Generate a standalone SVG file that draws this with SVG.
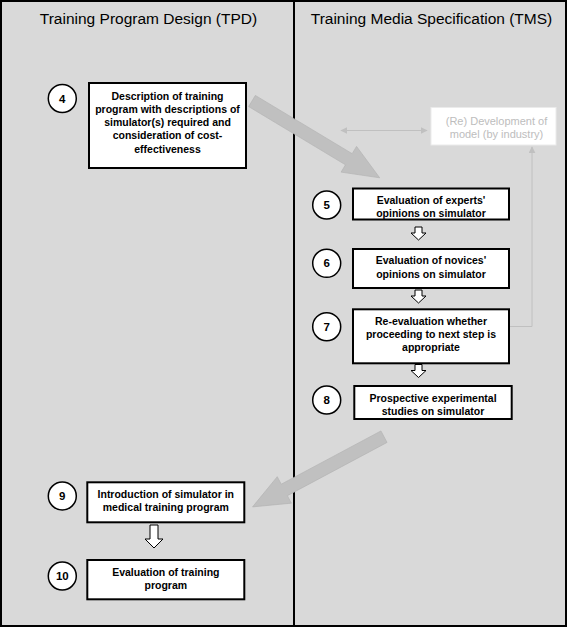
<svg xmlns="http://www.w3.org/2000/svg" width="567" height="627" viewBox="0 0 567 627">
<defs>
<style>
.frame{fill:#d9d9d9;stroke:#000;stroke-width:2}
.title{font-family:"Liberation Sans",Arial,sans-serif;font-size:15.5px;fill:#000;text-anchor:middle}
.box{fill:#fff;stroke:#000;stroke-width:2}
.txt{font-family:"Liberation Sans",Arial,sans-serif;font-size:10.5px;font-weight:bold;fill:#000;text-anchor:middle}
.num{font-family:"Liberation Sans",Arial,sans-serif;font-size:11.5px;font-weight:bold;fill:#000;text-anchor:middle}
.circ{fill:#fff;stroke:#000;stroke-width:1.5}
.big{fill:#c0c0c0;stroke:#b3b3b3;stroke-width:0.6}
.hollow{fill:#fff;stroke:#000;stroke-width:1}
.gline{fill:none;stroke:#c0c0c0;stroke-width:1}
.gbox{fill:#fff;stroke:#ebebeb;stroke-width:1}
.gtxt{font-family:"Liberation Sans",Arial,sans-serif;font-size:11px;fill:#bdbdbd;text-anchor:middle}
</style>
<marker id="ga" viewBox="0 0 10 10" refX="9" refY="5" markerWidth="7" markerHeight="7" orient="auto-start-reverse" markerUnits="userSpaceOnUse">
<path d="M0,0 L10,5 L0,10 Z" fill="#c0c0c0"/>
</marker>
<path id="bigArrow" d="M0,-6.5 H113 V-15 L149,0 L113,15 V6.5 H0 Z"/>
<path id="smallDown" d="M-3.5,0 H3.5 V6 H7.5 L0,13 L-7.5,6 H-3.5 Z"/>
<path id="largeDown" d="M-4,0 H4 V14 H9 L0,23 L-9,14 H-4 Z"/>
</defs>

<g id="background">
<rect class="frame" x="1" y="1" width="293" height="625"/>
<rect class="frame" x="294" y="1" width="272" height="625"/>
<text class="title" x="148.5" y="23.5">Training Program Design (TPD)</text>
<text class="title" x="431.5" y="23.5">Training Media Specification (TMS)</text>
</g>

<g id="connectors">
<use href="#bigArrow" class="big" transform="translate(252,101) rotate(31.03)"/>
<use href="#bigArrow" class="big" transform="translate(384,436.7) rotate(151.9)"/>
<use href="#smallDown" class="hollow" transform="translate(418.5,227)"/>
<use href="#smallDown" class="hollow" transform="translate(418.5,290)"/>
<use href="#smallDown" class="hollow" transform="translate(418.5,364.5)"/>
<use href="#largeDown" class="hollow" transform="translate(154,525)"/>
<line class="gline" x1="341" y1="130.5" x2="427" y2="130.5" marker-start="url(#ga)" marker-end="url(#ga)"/>
<polyline class="gline" points="510,326.5 532,326.5 532,147" marker-end="url(#ga)"/>
</g>

<g id="node-dev">
<rect class="gbox" x="431" y="107.5" width="125" height="37.5"/>
<text class="gtxt" x="496.5" y="124.5">(Re) Development of</text>
<text class="gtxt" x="496.5" y="137.5">model (by industry)</text>
</g>

<g id="node-4">
<circle class="circ" cx="62.3" cy="98.5" r="14"/>
<text class="num" x="62.3" y="102.5">4</text>
<rect class="box" x="89" y="83" width="157" height="85"/>
<text class="txt" x="167.5" y="99.5">Description of training</text>
<text class="txt" x="167.5" y="112.8">program with descriptions of</text>
<text class="txt" x="167.5" y="126">simulator(s) required and</text>
<text class="txt" x="167.5" y="139.3">consideration of cost-</text>
<text class="txt" x="167.5" y="152.6">effectiveness</text>
</g>

<g id="node-5">
<circle class="circ" cx="326.7" cy="205" r="14"/>
<text class="num" x="326.7" y="209">5</text>
<rect class="box" x="353" y="188.5" width="156" height="31"/>
<text class="txt" x="431" y="204.3">Evaluation of experts'</text>
<text class="txt" x="431" y="217">opinions on simulator</text>
</g>

<g id="node-6">
<circle class="circ" cx="326.7" cy="263.3" r="14"/>
<text class="num" x="326.7" y="267.3">6</text>
<rect class="box" x="353" y="249" width="156" height="39"/>
<text class="txt" x="431" y="264">Evaluation of novices'</text>
<text class="txt" x="431" y="277.5">opinions on simulator</text>
</g>

<g id="node-7">
<circle class="circ" cx="326.7" cy="326.7" r="14"/>
<text class="num" x="326.7" y="330.7">7</text>
<rect class="box" x="353" y="309.3" width="156" height="54"/>
<text class="txt" x="431" y="324.5">Re-evaluation whether</text>
<text class="txt" x="431" y="337.8">proceeding to next step is</text>
<text class="txt" x="431" y="351">appropriate</text>
</g>

<g id="node-8">
<circle class="circ" cx="326.7" cy="400" r="14"/>
<text class="num" x="326.7" y="404">8</text>
<rect class="box" x="354.3" y="386" width="157.4" height="33"/>
<text class="txt" x="433" y="401.5">Prospective experimental</text>
<text class="txt" x="433" y="414.8">studies on simulator</text>
</g>

<g id="node-9">
<circle class="circ" cx="62.3" cy="496" r="14"/>
<text class="num" x="62.3" y="500">9</text>
<rect class="box" x="87.3" y="482.3" width="157" height="40"/>
<text class="txt" x="165.8" y="497.8">Introduction of simulator in</text>
<text class="txt" x="165.8" y="511">medical training program</text>
</g>

<g id="node-10">
<circle class="circ" cx="62.3" cy="576" r="14"/>
<text class="num" x="62.3" y="580">10</text>
<rect class="box" x="87.3" y="560" width="157" height="39.3"/>
<text class="txt" x="165.8" y="575.5">Evaluation of training</text>
<text class="txt" x="165.8" y="588.8">program</text>
</g>
</svg>
